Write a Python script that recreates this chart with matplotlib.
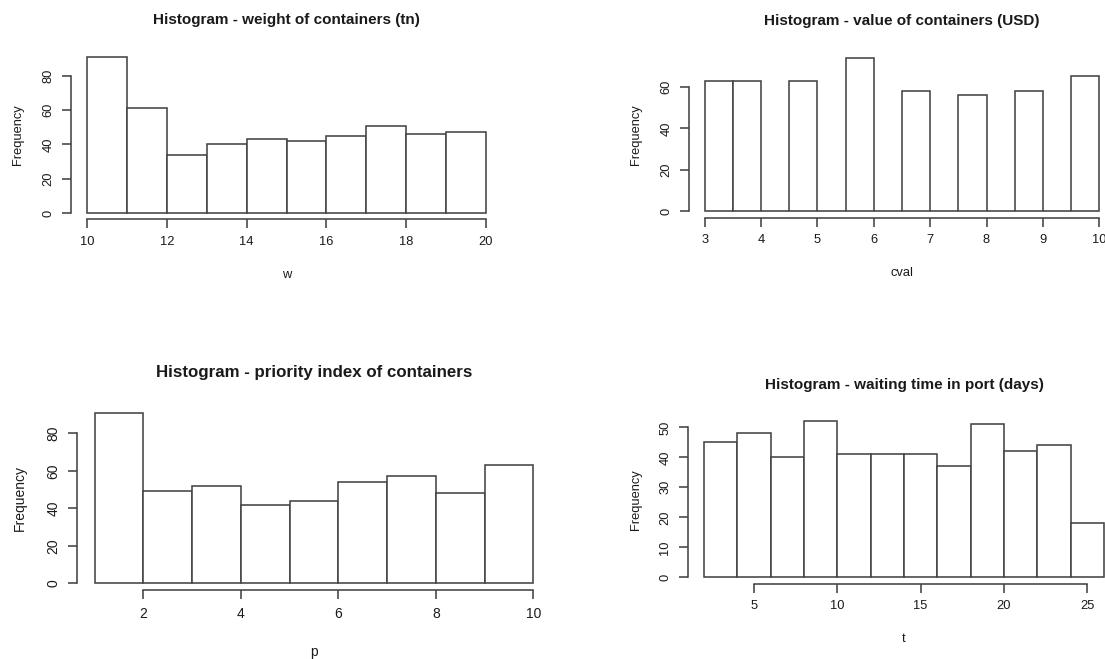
import numpy as np
import matplotlib
matplotlib.use('Agg')
import matplotlib.pyplot as plt
from matplotlib.transforms import blended_transform_factory

plt.rcParams['font.family'] = ['Liberation Sans', 'DejaVu Sans']

W, H = 1105, 659

# histogram data (bin edges + counts)
w_edges = [10, 11, 12, 13, 14, 15, 16, 17, 18, 19, 20]
w_counts = [91, 61, 34, 40, 43, 42, 45, 51, 46, 47]

cval_edges = [3, 3.5, 4, 4.5, 5, 5.5, 6, 6.5, 7, 7.5, 8, 8.5, 9, 9.5, 10]
cval_counts = [63, 63, 0, 63, 0, 74, 0, 58, 0, 56, 0, 58, 0, 65]

p_edges = [1, 2, 3, 4, 5, 6, 7, 8, 9, 10]
p_counts = [91, 49, 52, 42, 44, 54, 57, 48, 63]

t_edges = [2, 4, 6, 8, 10, 12, 14, 16, 18, 20, 22, 24, 26]
t_counts = [45, 48, 40, 52, 41, 41, 41, 37, 51, 42, 44, 18]

panels = [
    dict(edges=w_edges, counts=w_counts, xlabel='w',
         title='Histogram - weight of containers (tn)',
         xticks=[10, 12, 14, 16, 18, 20], yticks=[0, 20, 40, 60, 80],
         box=(71, 502, 50.6, 219.3), title_y=20, xlabel_y=275, ylabel_x=18,
         fs=9.3, tfs=11),
    dict(edges=cval_edges, counts=cval_counts, xlabel='cval',
         title='Histogram - value of containers (USD)',
         xticks=[3, 4, 5, 6, 7, 8, 9, 10], yticks=[0, 20, 40, 60],
         box=(689, 1115, 51.5, 217.6), title_y=20.7, xlabel_y=272.7, ylabel_x=636,
         fs=9.3, tfs=11),
    dict(edges=p_edges, counts=p_counts, xlabel='p',
         title='Histogram - priority index of containers',
         xticks=[2, 4, 6, 8, 10], yticks=[0, 20, 40, 60, 80],
         box=(77.2, 550.8, 405.9, 590.1), title_y=372.7, xlabel_y=651.7, ylabel_x=19.5,
         fs=10, tfs=12.2),
    dict(edges=t_edges, counts=t_counts, xlabel='t',
         title='Histogram - waiting time in port (days)',
         xticks=[5, 10, 15, 20, 25], yticks=[0, 10, 20, 30, 40, 50],
         box=(688, 1120, 415.1, 583.5), title_y=385, xlabel_y=639, ylabel_x=636,
         fs=9.3, tfs=11),
]

line_col = '#444444'
text_col = '#1a1a1a'

fig = plt.figure(figsize=(W / 100, H / 100), dpi=100)

for p in panels:
    l, r, t, b = p['box']
    ax = fig.add_axes([l / W, 1 - b / H, (r - l) / W, (b - t) / H])
    edges = np.array(p['edges'], dtype=float)
    counts = np.array(p['counts'], dtype=float)
    ax.bar(edges[:-1], counts, width=np.diff(edges), align='edge',
           color='white', edgecolor=line_col, linewidth=1.15)

    # R-style 4% padding around the data range
    dx = 0.04 * (edges[-1] - edges[0])
    ax.set_xlim(edges[0] - dx, edges[-1] + dx)
    ymax = counts.max()
    ax.set_ylim(-0.04 * ymax, 1.04 * ymax)

    ax.set_xticks(p['xticks'])
    ax.set_yticks(p['yticks'])
    ax.tick_params(length=6.5, width=1.15, color=line_col, labelsize=p['fs'],
                   labelcolor=text_col, pad=5.5)
    for lab in ax.get_yticklabels():
        lab.set_rotation(90)
        lab.set_va('center')

    for s in ['top', 'right']:
        ax.spines[s].set_visible(False)
    for s in ['left', 'bottom']:
        ax.spines[s].set_color(line_col)
        ax.spines[s].set_linewidth(1.15)
    ax.spines['left'].set_bounds(p['yticks'][0], p['yticks'][-1])
    ax.spines['bottom'].set_bounds(p['xticks'][0], p['xticks'][-1])

    ax.set_title(p['title'], fontsize=p['tfs'], fontweight='bold', color=text_col,
                 y=(b - p['title_y']) / (b - t), va='center', pad=0)

    ax.set_xlabel(p['xlabel'], fontsize=p['fs'], color=text_col)
    ax.xaxis.set_label_coords(0.5, 1 - p['xlabel_y'] / H,
                              transform=blended_transform_factory(ax.transAxes, fig.transFigure))
    ax.xaxis.label.set_va('center')

    ax.set_ylabel('Frequency', fontsize=p['fs'], color=text_col)
    ax.yaxis.set_label_coords(p['ylabel_x'] / W, 0.5,
                              transform=blended_transform_factory(fig.transFigure, ax.transAxes))
    ax.yaxis.label.set_va('center')
    ax.yaxis.label.set_ha('center')

fig.savefig('out.png', dpi=100)
